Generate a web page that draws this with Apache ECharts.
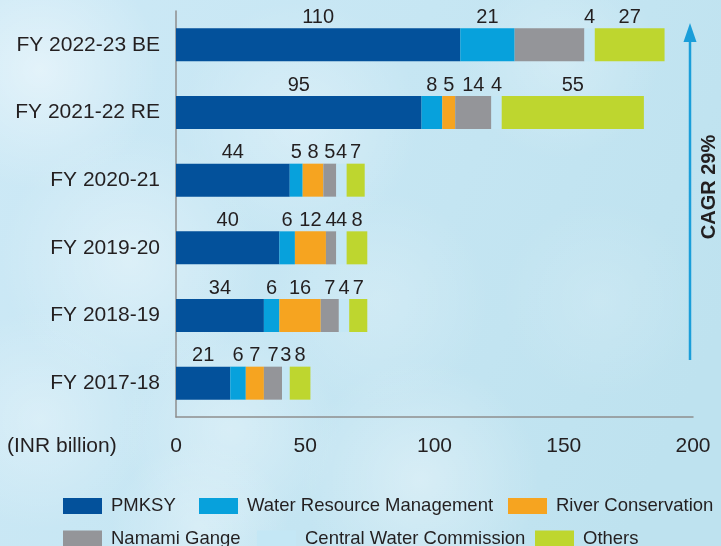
<!DOCTYPE html>
<html>
<head>
<meta charset="utf-8">
<script src="https://cdn.jsdelivr.net/npm/echarts@6/dist/echarts.min.js"></script>
<style>
  html, body { margin: 0; padding: 0; }
  #chart { width: 721px; height: 546px; }
</style>
</head>
<body>
<div id="chart"></div>
<script>
// Budget allocation by scheme, INR billion (bottom row first)
const categories = ['FY 2017-18', 'FY 2018-19', 'FY 2019-20', 'FY 2020-21', 'FY 2021-22 RE', 'FY 2022-23 BE'];
const pmksy  = [21, 34, 40, 44, 95, 110];
const wrm    = [6, 6, 6, 5, 8, 21];
const river  = [7, 16, 12, 8, 5, 0];
const namami = [7, 7, 4, 5, 14, 27];
const cwc    = [3, 4, 4, 4, 4, 4];
const others = [8, 7, 8, 7, 55, 27];
const xTicks = { min: 0, max: 200, interval: 50 };

const seriesDefs = [
  { name: 'PMKSY', data: pmksy, color: '#03519b' },
  { name: 'Water Resource Management', data: wrm, color: '#07a1dc' },
  { name: 'River Conservation', data: river, color: '#f6a420' },
  { name: 'Namami Gange', data: namami, color: '#949599', hideLast: true },
  { name: 'Central Water Commission', data: cwc, color: '#c4e7f5' },
  { name: 'Others', data: others, color: '#bed62f' }
];

const textColor = '#231f20';
const font = '"Liberation Sans", Arial, Helvetica, sans-serif';

const chart = echarts.init(document.getElementById('chart'), null, { renderer: 'canvas' });

const series = seriesDefs.map(d => ({
  name: d.name,
  type: 'bar',
  stack: 'total',
  barWidth: 33,
  itemStyle: { color: d.color },
  label: {
    show: true,
    position: 'top',
    distance: 1,
    color: textColor,
    fontFamily: font,
    fontSize: 20,
    formatter: p => (p.value ? String(p.value) : '')
  },
  data: d.data.map((v, i) =>
    (d.hideLast && i === d.data.length - 1) ? { value: v, label: { show: false } } : v)
}));

// Legend entries placed in two rows
const legendPos = [
  { left: 63, top: 496.5 },
  { left: 199, top: 496.5 },
  { left: 508, top: 496.5 },
  { left: 63, top: 529 },
  { left: 257, top: 529 },
  { left: 535, top: 529 }
];
const legends = seriesDefs.map((d, i) => ({
  data: [{ name: d.name, icon: 'rect' }],
  left: legendPos[i].left,
  top: legendPos[i].top,
  padding: 0,
  itemWidth: 39,
  itemHeight: 16,
  itemStyle: { borderWidth: 0 },
  selectedMode: false,
  textStyle: {
    color: textColor,
    fontFamily: font,
    fontSize: 18.5,
    padding: [0, 0, 0, 4]
  }
}));

// Soft cloud patches on the sky background
const clouds = [
  [40, 70, 120, 0.45], [130, 260, 130, 0.35], [300, 120, 120, 0.3], [420, 480, 120, 0.35],
  [230, 430, 110, 0.3], [40, 420, 110, 0.3], [560, 60, 100, 0.25], [380, 300, 110, 0.2],
  [200, 530, 90, 0.3], [600, 300, 100, 0.15]
].map(([x, y, r, a]) => ({
  type: 'circle',
  silent: true,
  z: -10,
  shape: { cx: x, cy: y, r: r },
  style: {
    fill: {
      type: 'radial', x: 0.5, y: 0.5, r: 0.5,
      colorStops: [
        { offset: 0, color: `rgba(255,255,255,${a})` },
        { offset: 0.5, color: `rgba(255,255,255,${a * 0.5})` },
        { offset: 1, color: 'rgba(255,255,255,0)' }
      ]
    }
  }
}));

chart.setOption({
  backgroundColor: {
    type: 'linear', x: 0, y: 0, x2: 1, y2: 0.6,
    colorStops: [
      { offset: 0, color: '#cde9f6' },
      { offset: 0.5, color: '#c6e6f3' },
      { offset: 1, color: '#bee2ef' }
    ]
  },
  animation: false,
  textStyle: { fontFamily: font },
  grid: { left: 176, right: 28, top: 11, bottom: 129, containLabel: false },
  legend: legends,
  xAxis: {
    type: 'value',
    min: xTicks.min,
    max: xTicks.max,
    interval: xTicks.interval,
    axisLine: { show: true, lineStyle: { color: '#8e8e8e', width: 1.5 } },
    axisTick: { show: false },
    splitLine: { show: false },
    axisLabel: { color: textColor, fontFamily: font, fontSize: 21, margin: 19 }
  },
  yAxis: {
    type: 'category',
    data: categories,
    axisLine: { show: true, lineStyle: { color: '#8e8e8e', width: 1.5 } },
    axisTick: { show: false },
    axisLabel: { color: textColor, fontFamily: font, fontSize: 21, margin: 16 }
  },
  series: series,
  graphic: clouds.concat([
    {
      type: 'text',
      left: 7,
      top: 436,
      style: { text: '(INR billion)', fill: textColor, font: `21px ${font}` }
    },
    {
      type: 'line',
      shape: { x1: 690, y1: 360, x2: 690, y2: 38 },
      style: { stroke: '#1a9ed9', lineWidth: 2.5 }
    },
    {
      type: 'polygon',
      shape: { points: [[690, 23], [683.5, 42], [696.5, 42]] },
      style: { fill: '#1a9ed9' }
    },
    {
      type: 'text',
      x: 709,
      y: 187,
      rotation: Math.PI / 2,
      style: {
        text: 'CAGR 29%',
        fill: textColor,
        font: `bold 20px ${font}`,
        align: 'center',
        verticalAlign: 'middle'
      }
    }
  ])
});
</script>
</body>
</html>
